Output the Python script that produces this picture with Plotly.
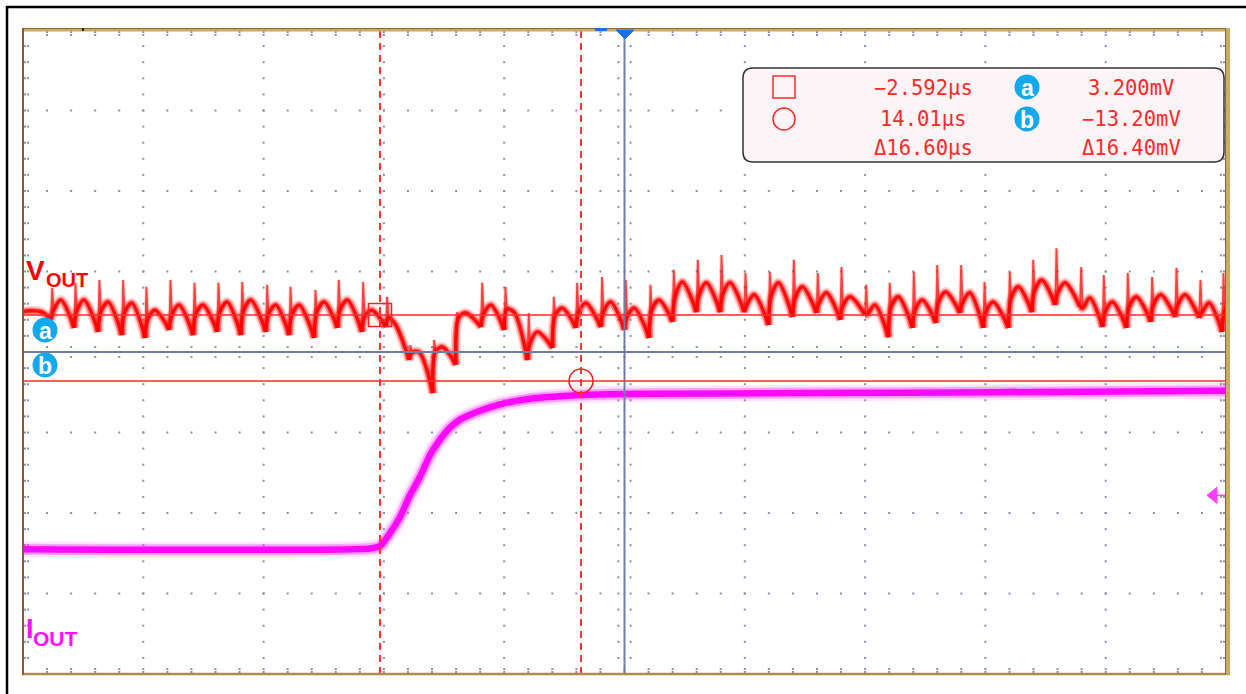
import plotly.graph_objects as go

# ---------------- data ----------------
x_range = [-32.07, 67.27]      # time, µs (10 div, ~10 µs/div)
y_range = [-86.0, 74.0]        # VOUT, mV (8 div, 20 mV/div)
y2_range = [0.0, 8.0]          # IOUT, div

# VOUT ripple: one entry per switching period (spike time, spike top, level after spike,
# arch peak, low before the next spike)
spike_t = [-29.70, -27.78, -25.80, -23.84, -21.92, -19.93, -17.95, -15.97, -14.01, -11.95,
           -10.02, -7.96, -6.04, -4.02, -2.04, -0.12, 1.84, 3.74, 5.81, 7.73,
           9.65, 11.72, 13.65, 15.71, 17.66, 19.70, 21.63, 23.61, 25.57, 27.55,
           29.56, 31.54, 33.52, 35.48, 37.52, 39.46, 41.45, 43.38, 45.36, 47.29,
           49.37, 51.31, 53.23, 55.27, 57.14, 59.12, 61.13, 63.14, 65.12, 67.02]
v_top = [9.9, 11.2, 11.9, 11.9, 10.2, 11.9, 11.2, 11.2, 11.4, 10.7,
         10.2, 9.4, 11.9, 11.4, 7.7, -4.3, -3.0, 3.9, 11.2, 10.2,
         3.7, 7.7, 11.2, 12.6, 11.9, 10.7, 14.4, 16.9, 18.1, 13.6,
         13.9, 16.9, 13.6, 15.1, 10.7, 11.2, 13.9, 15.6, 15.6, 11.4,
         13.9, 16.9, 19.8, 15.1, 13.1, 13.6, 12.6, 14.9, 11.9, 13.6]
v_start = [4.4, 4.2, 3.9, 3.7, 2.2, 3.2, 3.4, 3.9, 4.2, 3.4,
           3.2, 3.9, 4.4, 2.7, 2.5, -6.2, -5.8, 2.5, 3.4, 4.6,
           -3.8, 3.2, 3.7, 3.9, 2.7, 4.4, 7.7, 8.2, 8.4, 5.7,
           7.9, 7.4, 6.2, 5.4, 3.4, 5.2, 4.4, 6.4, 6.2, 3.9,
           7.4, 9.2, 8.7, 4.9, 3.9, 5.2, 5.7, 5.7, 3.7, 4.4]
v_arch = [6.9, 6.9, 6.4, 6.2, 4.4, 5.7, 5.7, 6.4, 6.9, 5.7,
          5.7, 6.4, 6.9, 4.4, 0.7, -6.0, -4.8, 3.7, 5.7, 3.9,
          -1.0, 4.9, 6.2, 6.4, 4.9, 6.9, 11.4, 11.2, 11.2, 8.2,
          11.2, 10.2, 8.7, 7.7, 5.7, 7.7, 6.9, 8.9, 8.7, 6.4,
          10.2, 11.9, 11.2, 7.4, 6.4, 7.7, 8.2, 8.2, 6.2, 6.9]
v_low = [0.0, -1.0, -1.8, -2.5, -0.5, -1.8, -1.0, -1.8, -1.0, -1.8,
         -2.5, 0.0, -1.0, 0.2, -8.0, -16.2, -9.2, 0.2, -0.5, -8.0,
         -5.0, 0.0, 0.2, -0.5, -2.5, 1.5, 3.9, 3.9, 3.9, 0.7,
         2.7, 3.7, 2.0, 3.2, -2.3, 0.0, 1.2, 3.7, 0.0, 0.0,
         3.9, 5.7, 5.2, 0.2, 0.0, 1.5, 2.7, 2.5, -1.0]
pre_t = [-32.07, -31.75, -30.50, -29.76]
pre_v = [4.0, 4.2, 3.9, 2.0]

# IOUT load step (div)
iout_t = [-32.07, -3.42, -2.59, -1.77, -0.94, -0.12, 0.71, 1.54, 2.36, 3.19,
          4.01, 5.67, 7.32, 9.79, 12.27, 14.75, 19.7, 32.1, 48.6, 67.27]
iout_v = [1.55, 1.56, 1.59, 1.75, 1.95, 2.22, 2.45, 2.72, 2.91, 3.06,
          3.16, 3.27, 3.35, 3.42, 3.45, 3.47, 3.48, 3.49, 3.50, 3.52]

# cursors
cursor_t = [-2.592, 14.01]     # µs
cursor_v = [3.2, -13.2]        # mV
trig_level_div = 2.22          # IOUT trigger level marker

# ---------------- build VOUT: thick ripple arches + thin switching spikes ----------------
arch_t, arch_v = list(pre_t) + [None], list(pre_v) + [None]
spk_t, spk_v = [], []
n_low = len(v_low)
for k, t0 in enumerate(spike_t):
    prev_low = v_low[k - 1] if k > 0 else pre_v[-1]
    spk_t += [t0 - 0.06, t0 + 0.04, t0 + 0.16, None]
    spk_v += [prev_low, v_top[k], v_start[k], None]
    arch_t += [t0 - 0.06, t0 + 0.16, t0 + 0.75]
    arch_v += [prev_low, v_start[k], v_arch[k]]
    if k < n_low:
        arch_t += [spike_t[k + 1] - 0.06, None]
        arch_v += [v_low[k], None]

# ---------------- helpers ----------------
L, R, T, B = 23, 1226, 30, 674
W, H = R - L, B - T


def PX(px):
    return (px - L) / W


def PY(py):
    return (B - py) / H


xmin, xmax = x_range
ymin, ymax = y_range
dx = (xmax - xmin) / 10
dy = (ymax - ymin) / 8
xc = xmin + 5 * dx
yc = ymin + 4 * dy
tpp = (xmax - xmin) / W      # µs per pixel
vpp = (ymax - ymin) / H      # mV per pixel

# grid dots
gx, gy = [], []
for i in range(1, 10):
    if i == 5:
        continue
    for m in range(1, 40):
        gx.append(xmin + i * dx)
        gy.append(ymin + m * dy / 5)
for j in range(1, 8):
    if j == 4:
        continue
    for n in range(1, 50):
        gx.append(xmin + n * dx / 5)
        gy.append(ymin + j * dy)
for n in range(1, 50):
    xn = xmin + n * dx / 5
    for off in (0.5, 1.25):
        gx += [xn, xn]
        gy += [ymax - off, ymin + off]
    gx += [xn, xn]
    gy += [yc + 1.25, yc - 1.25]
for m in range(1, 40):
    ym = ymin + m * dy / 5
    for off in (0.17, 0.42):
        gx += [xmin + off, xmax - off]
        gy += [ym, ym]
    gx += [xc - 0.5, xc + 0.5]
    gy += [ym, ym]

fig = go.Figure()
fig.add_trace(go.Scatter(x=gx, y=gy, mode="markers",
                         marker=dict(symbol="square", size=2, color="#8492ae", line=dict(width=0)),
                         hoverinfo="skip", showlegend=False))

# IOUT
for w, c in [(16, "rgba(255,90,255,0.16)"), (11, "rgba(255,40,255,0.35)"), (6.5, "rgba(255,0,255,0.95)")]:
    fig.add_trace(go.Scatter(x=iout_t, y=iout_v, yaxis="y2", mode="lines",
                             line=dict(color=c, width=w, shape="spline", smoothing=0.6),
                             hoverinfo="skip", showlegend=False))
# VOUT spikes (thin) and arches (thick band)
for w, c in [(4, "rgba(255,40,40,0.18)"), (1.8, "rgba(255,0,0,0.7)")]:
    fig.add_trace(go.Scatter(x=spk_t, y=spk_v, mode="lines", connectgaps=False,
                             line=dict(color=c, width=w),
                             hoverinfo="skip", showlegend=False))
for w, c in [(10, "rgba(255,40,40,0.2)"), (6.5, "rgba(255,20,20,0.45)"), (3.5, "rgba(255,0,0,0.9)")]:
    fig.add_trace(go.Scatter(x=arch_t, y=arch_v, mode="lines", connectgaps=False,
                             line=dict(color=c, width=w, shape="spline", smoothing=0.9),
                             hoverinfo="skip", showlegend=False))

shapes = []
# cursor markers on the traces
shapes.append(dict(type="rect", xref="x", yref="y",
                   x0=cursor_t[0] - 11.5 * tpp, x1=cursor_t[0] + 11.5 * tpp,
                   y0=cursor_v[0] - 11.5 * vpp, y1=cursor_v[0] + 11.5 * vpp,
                   line=dict(color="#ff2020", width=1.6)))
shapes.append(dict(type="circle", xref="x", yref="y",
                   x0=cursor_t[1] - 12 * tpp, x1=cursor_t[1] + 12 * tpp,
                   y0=cursor_v[1] - 12 * vpp, y1=cursor_v[1] + 12 * vpp,
                   line=dict(color="#ff2020", width=1.6)))
# center lines
shapes.append(dict(type="line", xref="x", yref="y", x0=xmin, x1=xmax, y0=yc, y1=yc,
                   line=dict(color="#6e7ea6", width=2)))
shapes.append(dict(type="line", xref="x", yref="y", x0=xc, x1=xc, y0=ymin, y1=ymax,
                   line=dict(color="#6e7ea6", width=2)))
# cursor lines
for v in cursor_v:
    shapes.append(dict(type="line", xref="x", yref="y", x0=xmin, x1=xmax, y0=v, y1=v,
                       line=dict(color="#ff2a2a", width=1.6)))
for t in cursor_t:
    shapes.append(dict(type="line", xref="x", yref="y", x0=t, x1=t, y0=ymin, y1=ymax,
                       line=dict(color="#ff3434", width=2, dash="7px,5px")))

# plot frame
shapes.append(dict(type="line", xref="paper", yref="paper", x0=PX(22), x1=PX(1230), y0=PY(30), y1=PY(30),
                   line=dict(color="#c8ac62", width=3)))
shapes.append(dict(type="line", xref="paper", yref="paper", x0=PX(22), x1=PX(1230), y0=PY(28.5), y1=PY(28.5),
                   line=dict(color="#8a6a30", width=1)))
shapes.append(dict(type="line", xref="paper", yref="paper", x0=PX(22), x1=PX(1230), y0=PY(674), y1=PY(674),
                   line=dict(color="#b08a50", width=2.5)))
shapes.append(dict(type="line", xref="paper", yref="paper", x0=PX(23), x1=PX(23), y0=PY(29), y1=PY(675),
                   line=dict(color="#8a5a2c", width=2)))
shapes.append(dict(type="line", xref="paper", yref="paper", x0=PX(1228), x1=PX(1228), y0=PY(28), y1=PY(675),
                   line=dict(color="#c8ac62", width=4)))
shapes.append(dict(type="line", xref="paper", yref="paper", x0=PX(1225.5), x1=PX(1225.5), y0=PY(29), y1=PY(675),
                   line=dict(color="#8a6a30", width=1)))
# outer black frame (left / top)
shapes.append(dict(type="line", xref="paper", yref="paper", x0=PX(7), x1=PX(7), y0=PY(6), y1=PY(694),
                   line=dict(color="#000000", width=2.5)))
shapes.append(dict(type="line", xref="paper", yref="paper", x0=PX(6), x1=PX(1246), y0=PY(7), y1=PY(7),
                   line=dict(color="#000000", width=2.5)))
shapes.append(dict(type="line", xref="paper", yref="paper", x0=PX(82), x1=PX(84), y0=PY(29.5), y1=PY(29.5),
                   line=dict(color="#202020", width=3)))

# trigger position markers (blue)
shapes.append(dict(type="path", xref="paper", yref="paper",
                   path=f"M {PX(616)},{PY(30)} L {PX(634)},{PY(30)} L {PX(625)},{PY(39)} Z",
                   fillcolor="#1c6fe6", line=dict(color="#1c6fe6", width=1)))
shapes.append(dict(type="rect", xref="paper", yref="paper", x0=PX(595), x1=PX(607), y0=PY(31), y1=PY(28),
                   fillcolor="#1c6fe6", line=dict(width=0)))
# IOUT trigger-level arrow (magenta)
tly = trig_level_div / 8
shapes.append(dict(type="path", xref="paper", yref="paper",
                   path=f"M {PX(1207)},{tly} L {PX(1217)},{tly + 8 / H} L {PX(1217)},{tly - 8 / H} Z",
                   fillcolor="#ff40ff", line=dict(color="#ff40ff", width=1)))
shapes.append(dict(type="line", xref="paper", yref="paper", x0=PX(1216), x1=PX(1225), y0=tly, y1=tly,
                   line=dict(color="#ff40ff", width=1.5)))

# readout box (rounded)
bx0, bx1, by0, by1, r = 743, 1224, 68, 162, 10
pts = (f"M {PX(bx0 + r)},{PY(by0)} L {PX(bx1 - r)},{PY(by0)} Q {PX(bx1)},{PY(by0)} {PX(bx1)},{PY(by0 + r)} "
       f"L {PX(bx1)},{PY(by1 - r)} Q {PX(bx1)},{PY(by1)} {PX(bx1 - r)},{PY(by1)} "
       f"L {PX(bx0 + r)},{PY(by1)} Q {PX(bx0)},{PY(by1)} {PX(bx0)},{PY(by1 - r)} "
       f"L {PX(bx0)},{PY(by0 + r)} Q {PX(bx0)},{PY(by0)} {PX(bx0 + r)},{PY(by0)} Z")
shapes.append(dict(type="path", xref="paper", yref="paper", path=pts,
                   fillcolor="#fdf4f8", line=dict(color="#333333", width=1.5)))
shapes.append(dict(type="rect", xref="paper", yref="paper", x0=PX(773), x1=PX(795), y0=PY(98), y1=PY(76),
                   line=dict(color="#ff2a2a", width=1.5)))
shapes.append(dict(type="circle", xref="paper", yref="paper", x0=PX(773), x1=PX(795), y0=PY(130), y1=PY(108),
                   line=dict(color="#ff2a2a", width=1.5)))

annotations = []


def badge(cx, cy, letter):
    shapes.append(dict(type="circle", xref="paper", yref="paper", x0=PX(cx - 12.5), x1=PX(cx + 12.5),
                       y0=PY(cy + 12.5), y1=PY(cy - 12.5), fillcolor="#12a8ee", line=dict(width=0)))
    annotations.append(dict(xref="paper", yref="paper", x=PX(cx), y=PY(cy + 1), text=letter,
                            showarrow=False, xanchor="center", yanchor="middle",
                            font=dict(family="Liberation Sans", size=23, color="white")))


badge(1027, 87, "<b>a</b>")
badge(1027, 119, "<b>b</b>")
badge(45, 330, "<b>a</b>")
badge(45, 365, "<b>b</b>")


def fmt(v, unit, nd):
    s = f"{abs(v):.{nd}f}{unit}"
    return ("\u2212" + s) if v < 0 else s


dt = cursor_t[1] - cursor_t[0]
dv = cursor_v[0] - cursor_v[1]
rows = [(fmt(cursor_t[0], "µs", 3), fmt(cursor_v[0], "mV", 3)),
        (fmt(cursor_t[1], "µs", 2), fmt(cursor_v[1], "mV", 2)),
        ("\u0394" + f"{dt:.2f}µs", "\u0394" + f"{dv:.2f}mV")]
for (ts, vs), cy in zip(rows, [87.5, 118.5, 148.5]):
    for txt, cx in [(ts, 923), (vs, 1131)]:
        annotations.append(dict(xref="paper", yref="paper", x=PX(cx), y=PY(cy), text=txt,
                                showarrow=False, xanchor="center", yanchor="middle",
                                font=dict(family="DejaVu Sans Mono", size=20.5, color="#ff2a2a")))

# channel labels
annotations.append(dict(xref="paper", yref="paper", x=PX(23.5), y=PY(270), text="<b>V</b>", showarrow=False,
                        xanchor="left", yanchor="middle", font=dict(family="Liberation Sans", size=28, color="#ff0000")))
annotations.append(dict(xref="paper", yref="paper", x=PX(44), y=PY(279.5), text="<b>OUT</b>", showarrow=False,
                        xanchor="left", yanchor="middle", font=dict(family="Liberation Sans", size=20, color="#ff0000")))
annotations.append(dict(xref="paper", yref="paper", x=PX(23.5), y=PY(629), text="<b>I</b>", showarrow=False,
                        xanchor="left", yanchor="middle", font=dict(family="Liberation Sans", size=27, color="#ff10ff")))
annotations.append(dict(xref="paper", yref="paper", x=PX(31), y=PY(638), text="<b>OUT</b>", showarrow=False,
                        xanchor="left", yanchor="middle", font=dict(family="Liberation Sans", size=21, color="#ff10ff")))

fig.update_layout(
    width=1246, height=694,
    margin=dict(l=L, r=1246 - R, t=T, b=694 - B),
    paper_bgcolor="white", plot_bgcolor="white",
    xaxis=dict(range=x_range, visible=False, fixedrange=True),
    yaxis=dict(range=y_range, visible=False, fixedrange=True),
    yaxis2=dict(range=y2_range, visible=False, overlaying="y", fixedrange=True),
    shapes=shapes, annotations=annotations, showlegend=False,
)

fig.write_html("out.html", config={"displayModeBar": False},
               post_script="document.body.style.margin='0';document.body.style.overflow='hidden';")
